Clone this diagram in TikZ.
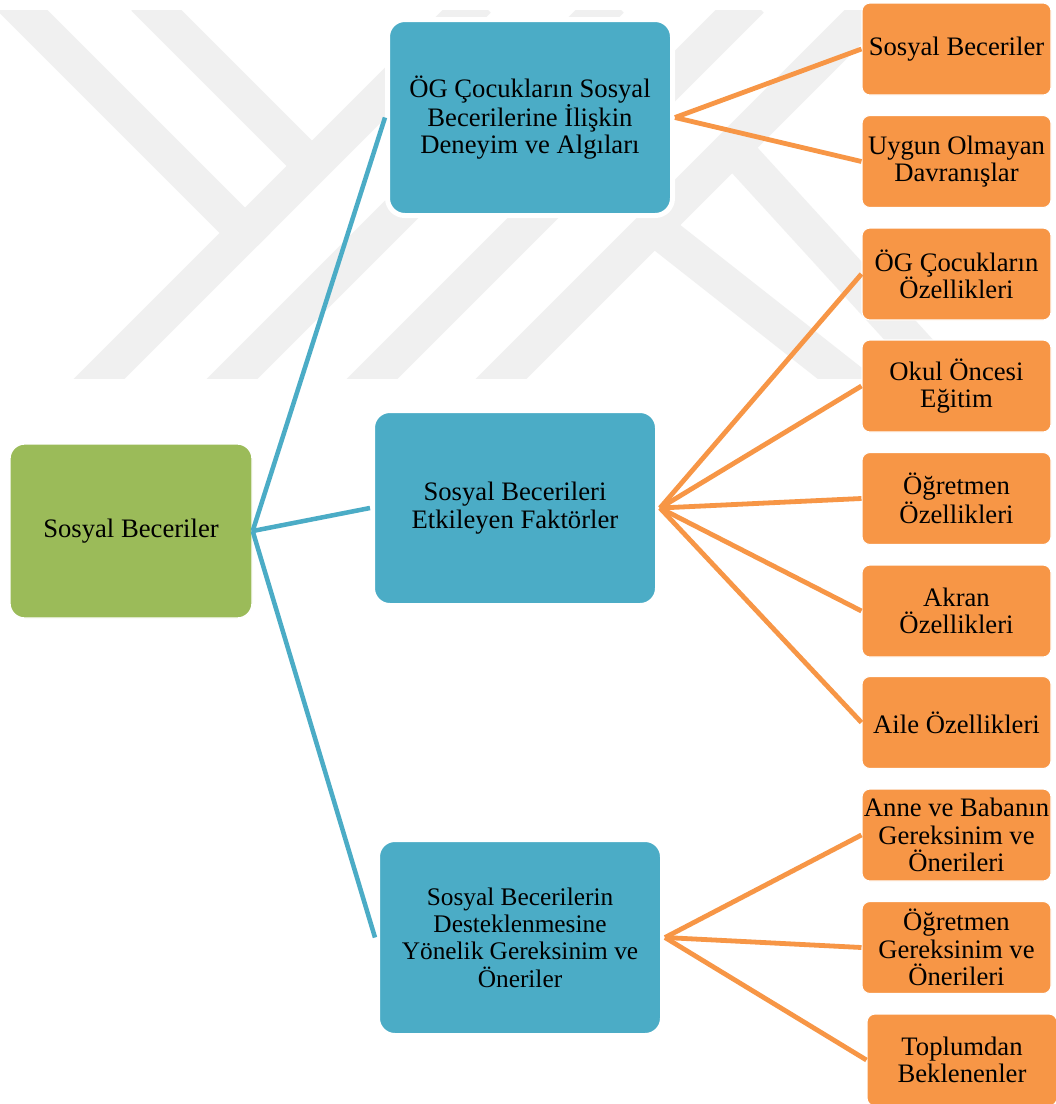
\documentclass[tikz,border=0pt]{standalone}
\usepackage{fontspec}
\setmainfont{Liberation Serif}
\definecolor{rootg}{RGB}{155,187,89}
\definecolor{midb}{RGB}{75,172,198}
\definecolor{leafo}{RGB}{247,150,70}
\definecolor{wmgray}{RGB}{240,240,240}
\begin{document}
\begin{tikzpicture}[x=0.75pt,y=-0.75pt,
  box/.style={align=center, inner sep=0pt, text=black, font=\fontsize{20}{20.5}\selectfont},
  rootbox/.style={box, fill=rootg, draw=white, line width=1pt, rounded corners=11pt,
    minimum width=181.5pt, minimum height=130.5pt},
  midbox/.style={box, fill=midb, draw=white, line width=3.75pt, rounded corners=13pt,
    minimum width=213.75pt, minimum height=147pt},
  leafbox/.style={box, fill=leafo, draw=white, line width=0.8pt, rounded corners=6pt,
    minimum width=141.75pt, minimum height=69pt},
  bline/.style={draw=midb, line width=3.4pt},
  oline/.style={draw=leafo, line width=3.6pt},
  wm/.style={draw=wmgray, line width=27pt, line join=miter}]
\useasboundingbox (0,0) rectangle (1056,1104);
\fill[white] (0,0) rectangle (1056,1104);

% watermark
\begin{scope}
  \clip (0,10) rectangle (1056,378);
  \draw[wm] (2,-10) -- (245,233) -- (81,397);
  \draw[wm] (245,233) -- (478,0);
  \draw[wm] (144,-2) -- (312,166);
  \draw[wm] (214,397) -- (611,0);
  \draw[wm] (354,397) -- (751,0);
  \draw[wm] (483,397) -- (880,0);
  \draw[wm] (728,142) -- (950,385);
  \draw[wm] (655,228) -- (880,405);
\end{scope}

% nodes
\node[rootbox] (root) at (131,531) {Sosyal Beceriler};

\node[midbox] (b1) at (530,117.5) {ÖG Çocukların Sosyal\\Becerilerine İlişkin\\Deneyim ve Algıları};
\node[midbox, minimum height=146.25pt] (b2) at (515,508) {Sosyal Becerileri\\Etkileyen Faktörler};
\node[midbox, font=\fontsize{19}{20.5}\selectfont] (b3) at (520,937.5) {Sosyal Becerilerin\\Desteklenmesine\\Yönelik Gereksinim ve\\Öneriler};

\node[leafbox] (l1) at (956.5,49) {Sosyal Beceriler};
\node[leafbox] (l2) at (956.5,161.5) {Uygun Olmayan\\Davranışlar};
\node[leafbox] (l3) at (956.5,274) {ÖG Çocukların\\Özellikleri};
\node[leafbox] (l4) at (956.5,386) {Okul Öncesi\\Eğitim};
\node[leafbox] (l5) at (956.5,498.5) {Öğretmen\\Özellikleri};
\node[leafbox] (l6) at (956.5,611) {Akran\\Özellikleri};
\node[leafbox] (l7) at (956.5,722.5) {Aile Özellikleri};
\node[leafbox] (l8) at (956.5,835) {Anne ve Babanın\\Gereksinim ve\\Önerileri};
\node[leafbox] (l9) at (956.5,947.5) {Öğretmen\\Gereksinim ve\\Önerileri};
\node[leafbox, minimum width=142.5pt] (l10) at (962,1060) {Toplumdan\\Beklenenler};

% connectors
\draw[bline] (root.east) -- (b1.west);
\draw[bline] (root.east) -- (b2.west);
\draw[bline] (root.east) -- (b3.west);

\draw[oline] (b1.east) -- (l1.west);
\draw[oline] (b1.east) -- (l2.west);
\draw[oline] (b2.east) -- (l3.west);
\draw[oline] (b2.east) -- (l4.west);
\draw[oline] (b2.east) -- (l5.west);
\draw[oline] (b2.east) -- (l6.west);
\draw[oline] (b2.east) -- (l7.west);
\draw[oline] (b3.east) -- (l8.west);
\draw[oline] (b3.east) -- (l9.west);
\draw[oline] (b3.east) -- (l10.west);
\end{tikzpicture}
\end{document}
